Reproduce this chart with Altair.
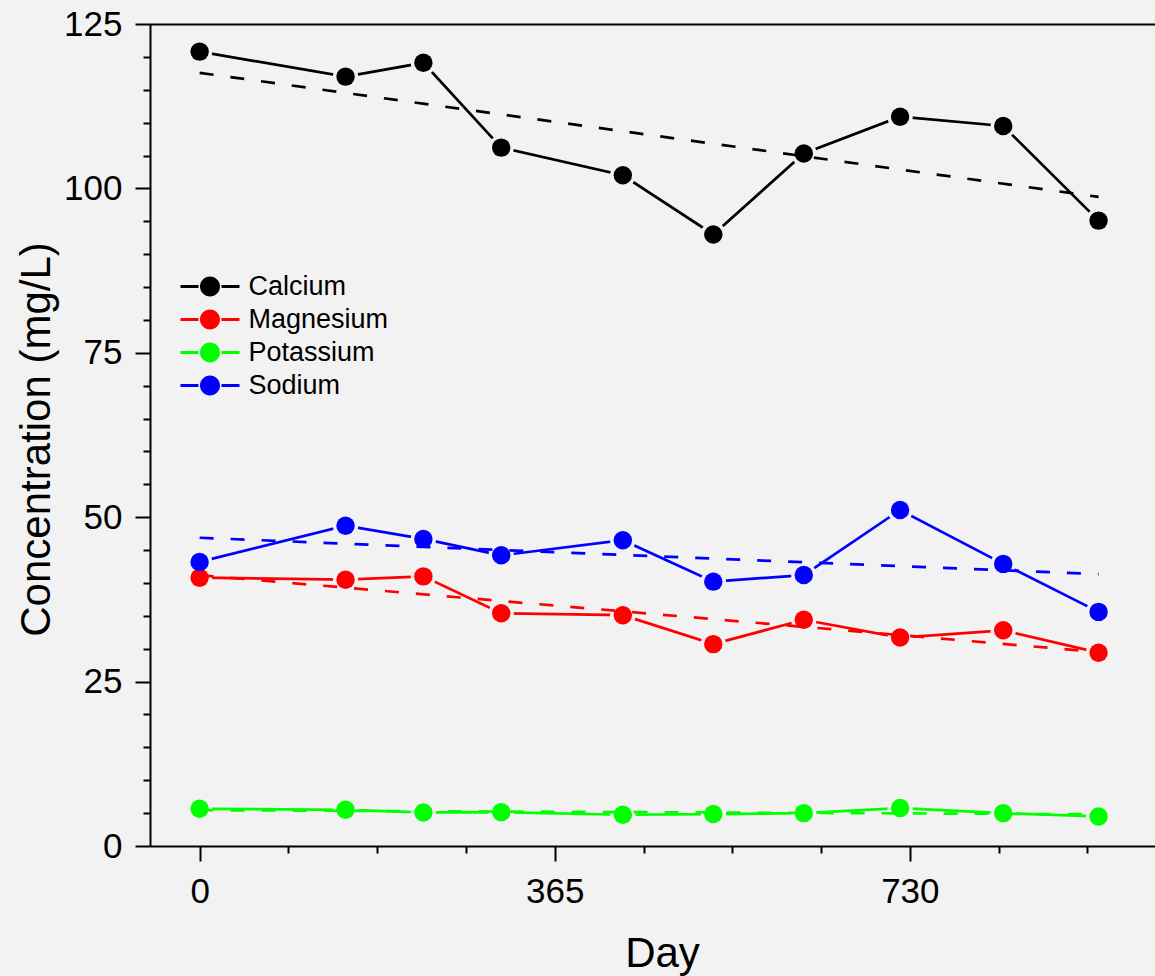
import altair as alt
import pandas as pd

# ---- data ----
days = [0, 150, 230, 310, 435, 528, 621, 720, 826, 924]
elements = ["Calcium", "Magnesium", "Potassium", "Sodium"]
calcium = [120.8, 117.0, 119.1, 106.2, 102.0, 93.0, 105.3, 110.9, 109.5, 95.1]
magnesium = [40.8, 40.5, 41.0, 35.4, 35.1, 30.7, 34.4, 31.7, 32.8, 29.4]
potassium = [5.66, 5.5, 5.1, 5.15, 4.75, 4.86, 5.0, 5.77, 5.0, 4.5]
sodium = [43.2, 48.7, 46.7, 44.2, 46.5, 40.2, 41.2, 51.1, 42.9, 35.6]
colors = ["#000000", "#ff0000", "#00ff00", "#0000ff"]

x_major = [0, 365, 730]
x_minor = [91.25, 182.5, 273.75, 456.25, 547.5, 638.75, 821.25, 912.5]
y_major = [0, 25, 50, 75, 100, 125]
y_minor = [5, 10, 15, 20, 30, 35, 40, 45, 55, 60, 65, 70, 80, 85, 90, 95,
           105, 110, 115, 120]

rows = []
for el, vals in zip(elements, [calcium, magnesium, potassium, sodium]):
    for d, v in zip(days, vals):
        rows.append({"day": d, "value": v, "element": el})
df = pd.DataFrame(rows)

BG = "#f2f2f2"
FONT = "Liberation Sans"

x_scale = alt.Scale(domain=[-51, 982], nice=False, zero=False)
y_scale = alt.Scale(domain=[0, 125], nice=False, zero=False)
color_scale = alt.Scale(domain=elements, range=colors)

x_axis = alt.Axis(
    values=x_major, tickSize=15, labelPadding=13, labelFontSize=35,
    labelFlush=False, labelOverlap=False,
    title="Day", titleFontSize=42, titleX=512, titleY=120,
    titleAlign="center", titleBaseline="alphabetic",
)
y_axis = alt.Axis(
    values=y_major, tickSize=15, labelPadding=13, labelFontSize=35,
    labelFlush=False, labelOverlap=False,
    title="Concentration (mg/L)", titleFontSize=42, titleX=-101, titleY=415,
    titleAngle=270, titleAlign="center", titleBaseline="alphabetic",
)

# legend glyph: filled bar - gap - filled circle - gap - filled bar
PATH = ("M-2.95,-0.14L-1.15,-0.14L-1.15,0.14L-2.95,0.14Z"
        "M1.15,-0.14L2.95,-0.14L2.95,0.14L1.15,0.14Z"
        "M1,0A1,1,0,1,1,-1,0A1,1,0,1,1,1,0Z")
legend = alt.Legend(
    orient="none", legendX=46.5, legendY=249,
    symbolType=PATH, symbolSize=400, symbolStrokeWidth=0,
    labelFontSize=27, labelOffset=25, rowPadding=5,
)

base = alt.Chart(df)

lines = base.mark_line(strokeWidth=2.7).encode(
    x=alt.X("day:Q", scale=x_scale, axis=x_axis),
    y=alt.Y("value:Q", scale=y_scale, axis=y_axis),
    color=alt.Color("element:N", scale=color_scale, legend=legend, title=None),
)

halo = base.mark_point(shape="circle", filled=True, size=640, opacity=1, color=BG).encode(
    x=alt.X("day:Q", scale=x_scale, axis=None),
    y=alt.Y("value:Q", scale=y_scale, axis=None),
)

trend = base.transform_regression(
    "day", "value", groupby=["element"]
).mark_line(strokeWidth=2.7, strokeDash=[14, 17]).encode(
    x=alt.X("day:Q", scale=x_scale, axis=None),
    y=alt.Y("value:Q", scale=y_scale, axis=None),
    color=alt.Color("element:N", scale=color_scale, legend=legend, title=None),
)

points = base.mark_point(shape="circle", filled=True, size=340, opacity=1, strokeWidth=0).encode(
    x=alt.X("day:Q", scale=x_scale, axis=None),
    y=alt.Y("value:Q", scale=y_scale, axis=None),
    color=alt.Color("element:N", scale=color_scale, legend=legend, title=None),
)

x_minor_layer = base.mark_rule(opacity=0).encode(
    x=alt.X("day:Q", scale=x_scale,
            axis=alt.Axis(orient="bottom", values=x_minor, tickSize=7, labels=False,
                          title=None, domain=False, grid=False)),
)
y_minor_layer = base.mark_rule(opacity=0).encode(
    y=alt.Y("value:Q", scale=y_scale,
            axis=alt.Axis(orient="left", values=y_minor, tickSize=7, labels=False,
                          title=None, domain=False, grid=False)),
)
top_axis = base.mark_rule(opacity=0).encode(
    x=alt.X("day:Q", scale=x_scale,
            axis=alt.Axis(orient="top", ticks=False, labels=False, title=None,
                          domain=True, grid=False)),
)

chart = alt.layer(lines, halo, trend, points, x_minor_layer, y_minor_layer, top_axis).resolve_axis(
    x="independent", y="independent"
).properties(
    width=1005,
    height=822,
    background=BG,
    autosize=alt.AutoSizeParams(type="none"),
    padding={"left": 150, "top": 24, "right": 0, "bottom": 130},
).configure_view(
    stroke=None,
).configure_axis(
    domainColor="black", domainWidth=2, tickColor="black", tickWidth=2,
    labelColor="black", titleColor="black", labelFont=FONT, titleFont=FONT,
    titleFontWeight="normal", grid=False,
)

chart.save("out.html", embed_options={"renderer": "svg", "actions": False})
